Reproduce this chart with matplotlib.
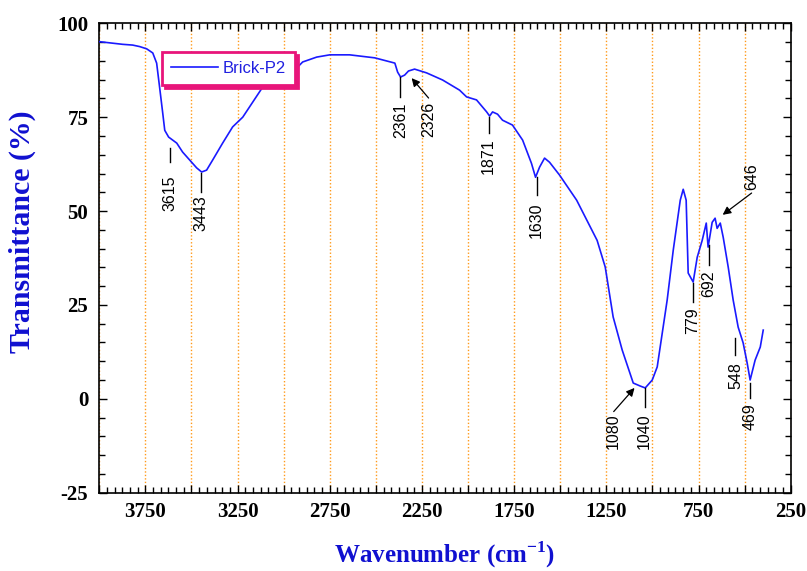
import matplotlib
matplotlib.use("Agg")
import matplotlib.pyplot as plt
from matplotlib.ticker import FixedLocator, FuncFormatter, MultipleLocator, AutoMinorLocator
from matplotlib import font_manager as fm

# ---- data ----
wavenumber = [3998, 3927, 3873, 3819, 3781, 3743, 3710, 3689, 3673, 3656, 3645, 3624,
              3580, 3548, 3510, 3472, 3445, 3418, 3385, 3331, 3277, 3222, 3168, 3114,
              3022, 2929, 2897, 2821, 2750, 2642, 2506, 2397, 2382, 2366, 2344, 2323,
              2290, 2225, 2138, 2046, 2008, 1954, 1899, 1883, 1867, 1840, 1813, 1759,
              1704, 1656, 1634, 1612, 1585, 1558, 1504, 1411, 1300, 1256, 1213, 1164,
              1104, 1066, 1039, 1001, 974, 920, 887, 849, 833, 817, 806, 779, 757, 730,
              708, 698, 676, 660, 649, 632, 616, 589, 562, 535, 508, 486, 470, 443,
              415, 399]
transmittance = [95.1, 94.7, 94.4, 94.2, 93.8, 93.2, 92.1, 89.4, 83.0, 76.1, 71.5, 69.7,
                 68.1, 65.7, 63.6, 61.5, 60.4, 60.9, 63.6, 68.1, 72.4, 75.0, 79.0, 83.0,
                 85.7, 88.1, 89.7, 91.0, 91.6, 91.6, 90.8, 89.4, 87.0, 85.7, 86.2, 87.3,
                 87.8, 86.8, 84.9, 82.2, 80.4, 79.6, 76.4, 75.3, 76.4, 75.8, 74.2, 72.9,
                 68.9, 62.7, 59.0, 61.7, 64.1, 63.0, 59.6, 52.9, 42.2, 35.1, 21.8, 13.0,
                 4.2, 3.4, 2.9, 5.0, 8.5, 26.3, 39.6, 52.9, 55.8, 52.9, 33.5, 31.1, 37.7,
                 42.2, 46.8, 40.4, 47.0, 48.1, 45.4, 46.8, 43.0, 35.1, 26.3, 19.1, 14.9,
                 9.5, 5.0, 10.3, 13.8, 18.3]
series_name = "Brick-P2"

# peak labels with a short marker line below the curve
peak_labels = ["3615", "3443", "2361", "1871", "1630", "1040", "779", "692", "548", "469"]
peak_pos = [3615, 3446, 2367, 1888, 1628, 1042, 782, 695, 550, 469]
peak_line_top = [66.8, 60.1, 85.7, 75.0, 59.1, 2.9, 30.8, 40.9, 16.2, 4.2]
peak_line_bot = [63.1, 55.0, 80.4, 70.8, 54.2, -2.2, 25.8, 35.6, 11.7, 0.2]
peak_text_top = [59.6, 54.3, 79.0, 69.4, 52.4, -3.8, 24.4, 34.3, 9.8, -1.1]

# peak labels with an arrow
arrow_labels = ["2326", "1080", "646"]
arrow_head_x = [2306, 1097, 619]
arrow_head_y = [85.4, 2.9, 49.0]
arrow_text_x = [2214, 1210, 462]
arrow_text_top = [79.0, -3.8, 62.8]
arrow_tail_y = [80.1, -3.4, 54.8]

x_major = list(range(250, 4001, 250))
y_major = [-25, 0, 25, 50, 75, 100]

# ---- fonts ----
serif = "Liberation Serif"
avail = {f.name for f in fm.fontManager.ttflist}
narrow = "Liberation Sans Narrow" if "Liberation Sans Narrow" in avail else "Liberation Sans"
plt.rcParams["axes.unicode_minus"] = False
plt.rcParams["mathtext.fontset"] = "custom"
plt.rcParams["mathtext.bf"] = "Liberation Serif:bold"
plt.rcParams["mathtext.rm"] = "Liberation Serif:bold"

fig = plt.figure(figsize=(8.07, 5.71), dpi=100)
ax = fig.add_axes([99.3 / 807, 1 - 492.7 / 571, (790.7 - 99.3) / 807, (492.7 - 23.3) / 571])

ax.plot(wavenumber, transmittance, color="#1a1aff", lw=1.2, label=series_name, zorder=3)

ax.set_xlim(4000, 250)
ax.set_ylim(-25, 100)

# ticks
ax.xaxis.set_major_locator(FixedLocator(x_major))
ax.xaxis.set_major_formatter(FuncFormatter(lambda v, p: f"{int(v)}" if int(v - 250) % 500 == 0 else ""))
ax.xaxis.set_minor_locator(AutoMinorLocator(6))
ax.yaxis.set_major_locator(FixedLocator(y_major))
ax.yaxis.set_minor_locator(MultipleLocator(5))
ax.tick_params(which="both", direction="in", top=True, right=True, color="black", width=1)
ax.tick_params(which="major", length=6)
ax.tick_params(which="minor", length=4)
ax.tick_params(axis="x", which="major", pad=7)
ax.tick_params(axis="y", which="major", pad=8)
for lab in ax.get_xticklabels() + ax.get_yticklabels():
    lab.set_fontfamily(serif)
    lab.set_fontweight("bold")
    lab.set_fontsize(15)
for sp in ax.spines.values():
    sp.set_linewidth(1.2)

# vertical grid
ax.xaxis.grid(True, which="major", color="#ff9a1a", linestyle=(0, (1, 1.5)), linewidth=1.0)
ax.set_axisbelow(True)

ax.set_xlabel("Wavenumber (cm$^{\\mathbf{-1}}$)", fontfamily=serif, fontweight="bold",
              fontsize=18, color="#1010d0")
ax.set_ylabel("Transmittance (%)", fontfamily=serif, fontweight="bold",
              fontsize=21.5, color="#1010d0")
ax.xaxis.set_label_coords(0.5, -0.10)
ax.yaxis.set_label_coords(-0.092, 0.555)

# peak annotations
for lab, x, yt, yb, ytx in zip(peak_labels, peak_pos, peak_line_top, peak_line_bot, peak_text_top):
    ax.plot([x, x], [yt, yb], color="black", lw=1.0, zorder=4)
    ax.text(x, ytx, lab, rotation=90, ha="center", va="top", fontsize=11.5,
            fontfamily=narrow, color="black", zorder=4)

for lab, hx, hy, tx, tt, ty in zip(arrow_labels, arrow_head_x, arrow_head_y,
                                   arrow_text_x, arrow_text_top, arrow_tail_y):
    ax.annotate("", xy=(hx, hy), xytext=(tx, ty),
                arrowprops=dict(arrowstyle="-|>", color="black", lw=0.9,
                                mutation_scale=12, shrinkA=0, shrinkB=0), zorder=4)
    ax.text(tx, tt, lab, rotation=90, ha="center", va="top", fontsize=11.5,
            fontfamily=narrow, color="black", zorder=4)

leg = ax.legend(loc="upper left", bbox_to_anchor=(0.0907, 0.939), borderaxespad=0,
                fancybox=False, frameon=True, handlelength=2.8, handletextpad=0.3,
                borderpad=0.55, prop={"family": "Liberation Sans", "size": 12},
                shadow={"color": "#e8157a", "alpha": 1.0})
leg.get_frame().set_edgecolor("#e8157a")
leg.get_frame().set_linewidth(2.0)
leg.get_frame().set_facecolor("white")
leg.get_frame().set_alpha(1.0)
for t in leg.get_texts():
    t.set_color("#2020e0")
leg.set_zorder(5)

fig.savefig("out.png", dpi=100)
